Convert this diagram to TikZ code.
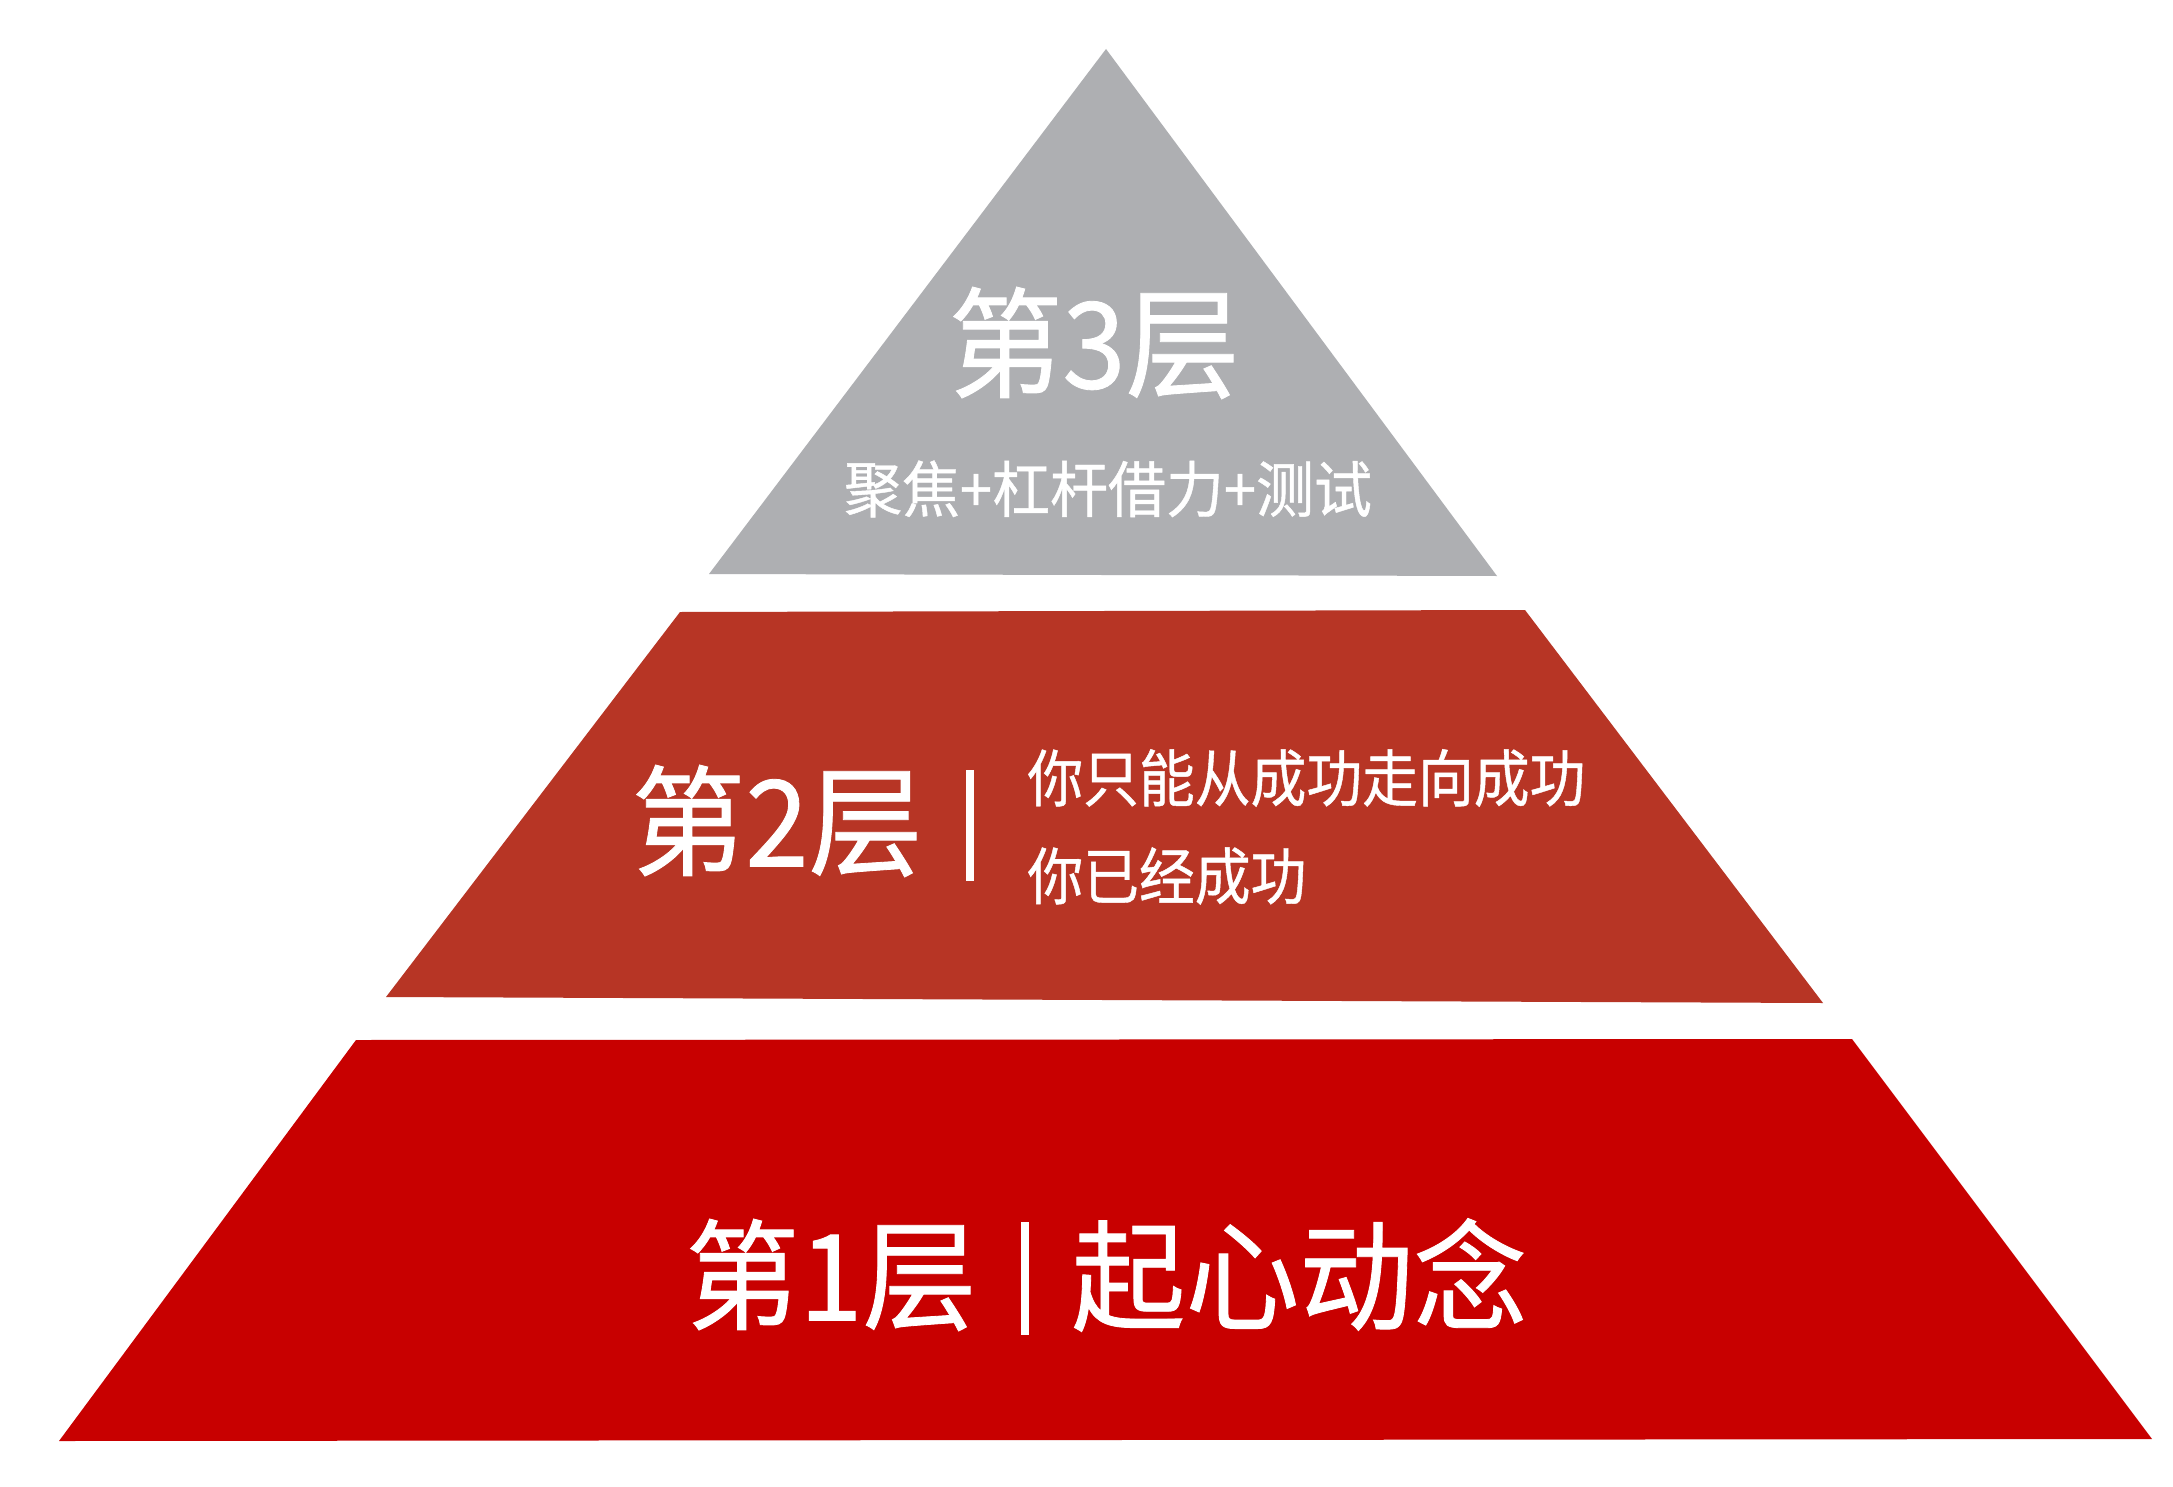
\documentclass[tikz,border=0pt]{standalone}
\usepackage{fontspec}
\newfontfamily\cjk[FakeStretch=0.95,FakeBold=0.7]{Noto Sans CJK SC}
\newfontfamily\cjkmid[FakeStretch=0.9,FakeBold=0.7]{Noto Sans CJK SC}
\definecolor{layerthree}{HTML}{AEAFB2}
\definecolor{layertwo}{HTML}{B73525}
\definecolor{layerone}{HTML}{C80000}
\begin{document}
\begin{tikzpicture}[x=0.5pt,y=-0.5pt,
  lbl/.style={text=white,inner sep=0pt,font=\cjk},
  big/.style={lbl,font=\cjk\fontsize{60}{60}\selectfont},
  mid/.style={lbl,font=\cjkmid\fontsize{31}{31}\selectfont},
  sepbar/.style={white,line width=4pt}]
\useasboundingbox[fill=white] (0,0) rectangle (2173,1487);
% top triangle
\coordinate (tA) at (1106,49);
\coordinate (tL) at (709,574);
\coordinate (tR) at (1497,576);
\fill[layerthree] (tA) -- (tR) -- (tL) -- cycle;
% middle trapezoid
\coordinate (mTL) at (680,612);
\coordinate (mTR) at (1525,610);
\coordinate (mBR) at (1823,1003);
\coordinate (mBL) at (386,997);
\fill[layertwo] (mTL) -- (mTR) -- (mBR) -- (mBL) -- cycle;
% bottom trapezoid
\coordinate (bTL) at (356,1040);
\coordinate (bTR) at (1852,1039);
\coordinate (bBR) at (2152,1439);
\coordinate (bBL) at (59,1441);
\fill[layerone] (bTL) -- (bTR) -- (bBR) -- (bBL) -- cycle;
% layer 3 text
\node[big] (l3) at (1094,343) {第3层};
\node[lbl,font=\cjk\fontsize{30.5}{30.5}\selectfont] (l3s) at (1108,489) {聚焦+杠杆借力+测试};
% layer 2 text
\node[big] (l2) at (777,821) {第2层};
\coordinate (b2t) at (970,770);
\coordinate (b2b) at (970,881);
\draw[sepbar] (b2t) -- (b2b);
\node[mid,anchor=west] (l2a) at (1027,778) {你只能从成功走向成功};
\node[mid,anchor=west] (l2b) at (1027,876) {你已经成功};
% layer 1 text
\node[big] (l1) at (831,1275) {第1层};
\coordinate (b1t) at (1025,1222);
\coordinate (b1b) at (1025,1335);
\draw[sepbar] (b1t) -- (b1b);
\node[big,anchor=west] (l1a) at (1071,1275) {起心动念};
\end{tikzpicture}
\end{document}
